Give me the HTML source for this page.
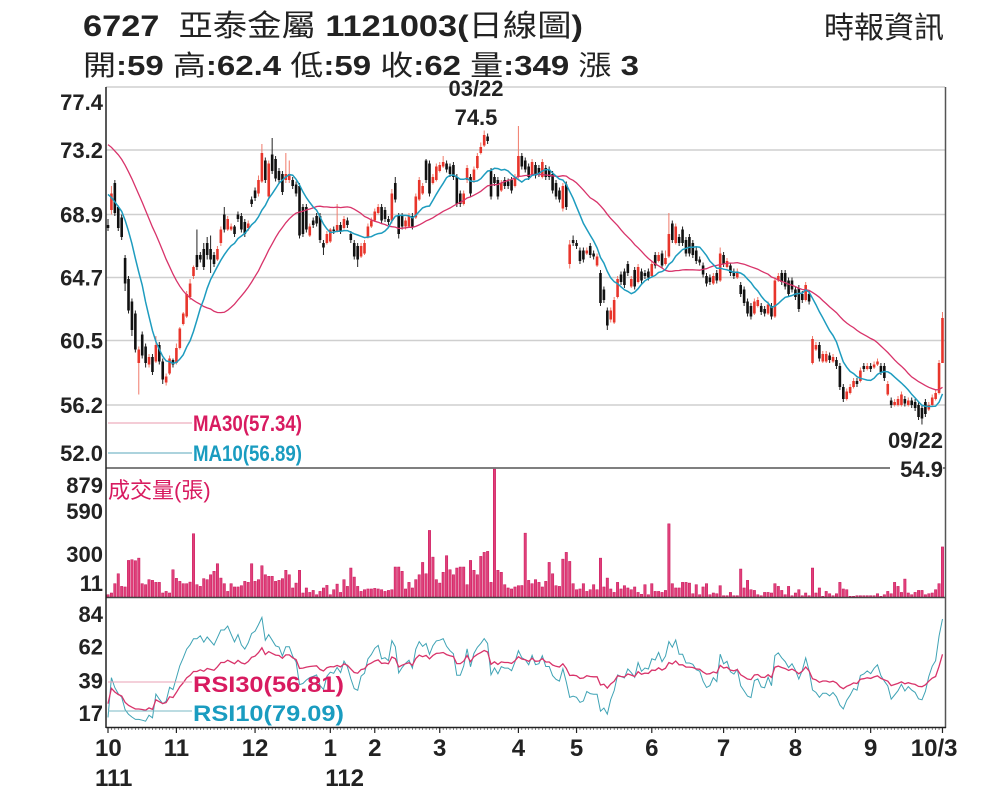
<!DOCTYPE html>
<html><head><meta charset="utf-8"><style>
html,body{margin:0;padding:0;background:#fff;}
svg{display:block;font-family:"Liberation Sans","Noto Sans CJK TC",sans-serif;}
.b{font-weight:bold;}
</style></head><body>
<svg id="chart" width="1000" height="803" viewBox="0 0 1000 803" xmlns="http://www.w3.org/2000/svg">
<rect width="1000" height="803" fill="#fff"/>
<text x="83" y="36" font-size="30" class="b" fill="#222" textLength="500" lengthAdjust="spacingAndGlyphs">6727 <tspan font-weight="normal">&#160;亞泰金屬</tspan> 1121003(<tspan font-weight="normal">日線圖</tspan>)</text>
<text x="83" y="75" font-size="28" class="b" fill="#222" textLength="556" lengthAdjust="spacingAndGlyphs"><tspan font-weight="normal">開</tspan>:59 <tspan font-weight="normal">高</tspan>:62.4 <tspan font-weight="normal">低</tspan>:59 <tspan font-weight="normal">收</tspan>:62 <tspan font-weight="normal">量</tspan>:349 <tspan font-weight="normal">漲</tspan> 3</text>
<text x="944" y="38" font-size="30" text-anchor="end" fill="#222">時報資訊</text>
<g id="grid"></g>
<g id="ylabels"></g>
<g id="candles"></g>
<g id="ma"></g>
<g id="vol"></g>
<g id="rsi"></g>
<g id="xaxis"></g>
<line x1="106" y1="468" x2="945" y2="468" stroke="#555" stroke-width="1.5"/>
<line x1="106" y1="597.5" x2="945" y2="597.5" stroke="#444" stroke-width="1.5"/>
<line x1="106" y1="87" x2="106" y2="728" stroke="#222" stroke-width="1.5"/>
<line x1="945.5" y1="87" x2="945.5" y2="728" stroke="#555" stroke-width="1.5"/>
<line x1="106" y1="727.5" x2="946" y2="727.5" stroke="#222" stroke-width="1.5"/>
<text x="476" y="96" font-size="22" class="b" text-anchor="middle" fill="#222">03/22</text>
<text x="476" y="125" font-size="22" class="b" text-anchor="middle" fill="#222">74.5</text>
<text x="943" y="448" font-size="22" class="b" text-anchor="end" fill="#222">09/22</text>
<rect x="890" y="460" width="53" height="21" fill="#fff"/>
<text x="943" y="477" font-size="22" class="b" text-anchor="end" fill="#222">54.9</text>
<line x1="108" y1="423" x2="192" y2="423" stroke="#e89aae" stroke-width="1"/>
<text x="193" y="431" font-size="22" class="b" fill="#d81b60" textLength="109" lengthAdjust="spacingAndGlyphs">MA30(57.34)</text>
<line x1="108" y1="453" x2="192" y2="453" stroke="#5aa7bb" stroke-width="1"/>
<text x="193" y="461" font-size="22" class="b" fill="#1a9cc0" textLength="109" lengthAdjust="spacingAndGlyphs">MA10(56.89)</text>
<text x="108" y="498" font-size="22" fill="#d81b60">成交量(張)</text>
<line x1="108" y1="682" x2="192" y2="682" stroke="#e8a0b4" stroke-width="1"/>
<text x="193" y="692" font-size="22" class="b" fill="#d81b60" textLength="151" lengthAdjust="spacingAndGlyphs">RSI30(56.81)</text>
<line x1="108" y1="711" x2="192" y2="711" stroke="#7ab8c4" stroke-width="1"/>
<text x="193" y="721" font-size="22" class="b" fill="#1a9cc0" textLength="151" lengthAdjust="spacingAndGlyphs">RSI10(79.09)</text>
</svg>
<script>
const NS="http://www.w3.org/2000/svg";
const opens=[68.2,69.2,71.0,69.4,68.7,66.0,64.6,63.1,62.3,59.0,60.9,60.1,58.9,59.4,59.1,60.2,59.1,57.7,58.3,59.2,59.0,60.0,61.6,62.1,63.4,64.8,66.2,66.2,66.6,67.0,66.6,66.2,65.9,67.0,68.9,67.9,67.9,68.1,68.9,68.8,68.4,68.0,69.9,70.5,70.3,71.1,72.5,70.1,72.9,72.6,71.8,71.6,71.2,71.2,71.2,70.9,70.8,69.4,69.4,67.5,68.5,68.8,68.8,67.0,67.0,67.1,67.9,67.8,68.2,68.0,68.5,67.6,67.0,66.8,66.1,66.3,67.4,68.1,68.5,69.0,69.4,69.2,68.6,68.5,71.0,68.8,68.8,68.1,68.1,68.8,68.7,69.9,70.3,72.5,72.3,71.0,71.2,71.8,72.1,72.3,72.1,72.2,71.4,70.3,69.6,71.2,71.4,71.2,72.0,73.0,73.5,74.1,71.8,71.4,71.2,70.5,71.2,71.1,71.2,70.8,71.4,72.8,72.5,72.1,71.6,72.2,72.0,71.4,72.0,71.9,71.6,71.0,70.5,69.3,70.9,65.6,67.2,67.0,66.5,66.5,66.3,66.8,66.3,65.5,65.0,63.9,62.5,61.9,61.7,63.4,64.9,65.1,65.6,64.1,65.2,64.4,65.1,65.0,65.1,64.8,66.2,65.8,66.3,65.6,66.1,68.3,67.0,67.4,67.9,67.2,67.4,67.0,66.5,65.9,65.5,64.8,64.7,64.3,65.0,64.5,66.2,65.4,65.5,65.1,64.7,64.2,63.9,63.1,62.8,62.3,62.8,62.8,62.6,62.3,62.8,62.1,64.5,65.0,65.0,64.5,64.5,63.9,64.0,63.6,63.2,63.6,59.0,59.9,60.2,59.1,59.1,59.5,59.1,59.2,58.8,57.4,56.6,57.0,57.4,57.8,57.8,58.8,58.6,58.8,58.7,58.9,58.8,58.8,56.9,56.5,56.2,56.2,56.2,56.6,56.2,56.5,56.4,56.2,56.0,56.4,55.9,56.2,56.6,57.0,59.0];
const highs=[68.6,70.8,71.2,69.5,68.9,66.2,64.8,63.3,62.5,60.1,61.1,60.3,59.6,59.6,60.8,60.4,59.3,58.3,59.5,59.3,60.3,61.4,62.4,63.8,64.6,65.5,67.9,66.4,67.0,67.4,67.5,66.4,66.8,68.1,69.4,68.8,68.3,68.2,69.1,69.0,68.6,68.5,70.1,70.7,71.5,73.6,72.7,72.5,74.0,72.8,72.0,71.8,73.0,72.5,71.4,71.1,71.0,69.6,69.6,68.3,68.7,69.0,69.0,67.2,67.8,68.0,68.1,69.6,68.4,68.8,68.7,67.8,67.2,67.0,67.0,67.2,68.3,68.7,69.3,69.6,69.6,69.4,68.8,70.6,71.4,69.0,69.0,68.7,69.0,69.0,70.3,71.4,71.0,72.6,72.5,71.6,72.3,72.4,72.8,72.5,72.3,72.4,71.6,70.5,70.5,72.2,71.6,72.1,73.0,73.7,74.5,74.3,72.0,71.6,71.4,71.2,71.4,71.3,71.4,71.6,74.8,73.0,72.7,72.3,72.6,72.4,72.2,72.6,72.2,72.1,71.8,71.2,70.7,71.0,71.1,67.2,67.5,67.2,66.7,66.7,66.7,67.0,66.5,66.3,65.2,64.1,62.7,62.7,63.4,64.8,65.1,65.3,65.8,64.8,65.4,65.6,65.3,65.2,65.3,65.8,66.4,66.4,66.5,66.5,69.0,68.5,68.3,67.6,68.1,67.4,67.6,67.2,66.7,66.1,65.7,65.0,64.9,65.0,65.2,66.7,66.4,66.0,65.7,65.3,65.3,64.4,64.1,63.3,63.0,63.3,63.4,63.0,62.8,63.1,63.0,64.7,65.0,65.2,65.2,64.7,64.7,64.1,64.2,63.8,64.4,63.8,60.8,60.4,60.4,59.8,59.8,59.7,59.6,59.4,59.0,57.6,57.3,57.6,58.0,58.0,58.7,59.0,59.0,59.0,59.1,59.3,59.0,59.0,57.8,56.7,56.6,56.8,57.1,56.8,56.7,56.7,56.6,56.4,56.2,56.6,56.4,56.9,57.2,59.2,62.4];
const lows=[67.8,68.9,68.8,67.8,67.2,63.8,62.3,60.8,59.7,56.9,59.3,58.7,58.7,58.2,59.0,58.9,57.6,57.5,58.2,58.7,58.9,59.9,61.5,62.0,63.2,64.6,65.2,65.7,65.2,65.9,65.0,65.4,65.8,66.8,67.7,67.8,67.8,67.4,68.4,67.7,67.4,67.8,69.4,69.8,70.1,71.0,71.0,70.0,71.6,71.1,71.0,70.2,71.0,71.0,70.6,70.1,67.3,67.4,67.7,67.4,68.0,68.1,67.0,66.2,66.9,67.0,67.6,67.7,67.6,67.9,68.0,67.0,65.9,65.4,66.0,66.2,67.3,68.0,68.4,68.9,68.3,68.4,68.2,68.3,69.7,67.3,67.9,67.9,68.0,67.9,68.6,69.8,70.2,71.0,70.1,70.9,71.1,71.7,72.0,71.7,71.4,71.2,69.4,69.4,69.5,71.0,70.1,71.0,71.9,72.9,73.4,73.6,69.9,70.8,69.9,70.4,70.6,70.6,70.3,70.7,71.3,71.9,71.7,71.2,71.5,71.3,71.4,71.3,71.2,71.2,70.3,69.9,69.7,69.1,69.2,65.3,66.8,66.6,65.6,65.7,66.2,66.0,65.9,65.4,62.8,63.0,61.2,61.7,61.6,63.3,64.2,64.0,64.8,64.0,63.9,64.3,64.3,64.6,64.5,64.7,65.3,65.7,65.3,65.5,66.0,67.0,66.9,66.8,66.8,66.1,66.1,66.0,65.6,65.5,64.7,64.1,64.2,64.2,64.3,64.4,65.4,65.3,64.8,64.6,64.6,63.4,62.8,62.1,61.9,62.2,62.7,62.2,62.1,62.2,61.9,62.0,64.4,64.2,63.9,63.4,63.7,63.2,62.4,63.0,63.1,62.9,58.9,59.8,59.1,59.0,59.0,59.0,59.0,58.6,57.2,56.4,56.5,56.9,57.3,57.4,57.7,58.4,58.5,58.4,58.6,58.8,58.2,57.8,56.8,56.0,56.1,56.1,56.1,56.1,56.1,56.0,55.8,55.2,54.9,55.4,55.8,56.1,56.5,56.9,59.0];
const closes=[68.0,70.3,69.0,68.0,67.4,64.3,62.5,61.2,59.9,59.9,59.5,59.0,59.4,58.4,60.2,59.1,57.9,58.1,59.3,58.9,60.0,61.3,62.3,63.6,64.3,65.4,65.4,65.9,65.4,66.2,65.9,65.6,66.6,67.9,67.9,68.6,68.1,67.6,68.6,67.9,67.6,68.3,69.6,70.0,71.2,73.0,71.2,72.3,71.8,71.3,71.2,70.4,71.6,71.6,70.8,70.3,67.5,67.6,67.9,68.1,68.2,68.3,67.2,66.7,67.6,67.9,67.8,68.2,67.8,68.6,68.2,67.2,66.1,65.9,66.8,67.0,68.1,68.5,69.1,69.4,68.5,68.6,68.4,70.3,69.9,67.6,68.1,68.5,68.8,68.1,70.1,71.2,70.8,71.2,70.3,71.4,72.1,72.2,72.4,71.9,71.6,71.4,69.6,69.6,70.3,72.0,70.3,71.9,72.8,73.4,74.2,73.8,70.1,71.0,70.1,71.0,70.8,70.8,70.5,71.4,72.8,72.1,71.9,71.4,72.4,71.5,71.6,72.4,71.4,71.4,70.5,70.1,69.9,70.8,69.4,66.9,67.0,66.8,65.8,65.9,66.5,66.2,66.1,66.1,63.0,63.2,61.5,62.5,63.2,64.6,64.4,64.2,65.0,64.6,64.1,65.4,64.5,64.8,64.7,65.6,65.5,66.2,65.5,66.0,67.6,67.2,68.1,67.0,67.0,66.3,66.3,66.2,65.8,65.7,64.9,64.3,64.4,64.8,64.5,66.3,65.6,65.8,65.0,64.8,65.1,63.6,63.0,62.3,62.1,63.1,63.2,62.4,62.3,62.9,62.1,64.5,64.8,64.4,64.1,63.6,63.9,63.4,62.6,63.2,64.2,63.1,60.6,60.2,59.3,59.6,59.6,59.2,59.4,58.8,57.4,56.6,57.1,57.4,57.8,57.6,58.5,58.6,58.8,58.6,58.9,59.1,58.4,58.0,57.6,56.2,56.4,56.6,56.9,56.3,56.5,56.2,56.0,55.4,55.3,55.6,56.2,56.7,57.0,59.0,62.0];
const priorCloses=[75.8,76.2,75.9,76.5,76.0,75.6,75.3,75.8,75.4,75.0,75.5,75.9,75.2,74.8,75.1,74.6,74.9,74.2,73.8,73.0,72.4,71.8,71.2,70.6,70.2,69.8,69.5,69.9,69.0];
const volumes=[16,28,93,162,74,70,255,260,253,271,93,86,121,116,102,102,28,39,28,190,130,109,93,93,104,441,86,74,128,121,155,179,232,132,93,39,93,70,70,79,109,102,232,109,121,218,155,144,144,109,116,128,186,155,63,97,186,28,63,32,46,16,39,63,81,16,51,90,32,121,74,202,139,74,39,51,56,56,60,56,51,39,46,51,209,209,179,56,102,63,121,155,241,162,464,278,121,97,172,288,190,155,202,209,209,86,255,186,155,283,311,318,102,891,186,172,86,63,56,70,79,80,445,116,93,121,102,70,109,241,162,79,74,264,311,248,93,51,56,93,39,51,86,51,271,70,132,56,32,102,56,79,63,51,70,32,19,86,16,93,39,39,32,46,510,93,63,63,102,102,97,23,86,16,70,93,16,28,23,79,9,9,32,9,9,195,63,116,51,46,16,9,32,32,28,93,74,46,16,74,9,28,51,9,28,9,202,28,63,5,39,23,9,23,102,56,51,5,5,9,9,9,9,9,9,23,5,16,39,23,102,74,32,125,28,16,32,46,46,16,23,28,51,93,349];
const priceTicks=[77.4,73.2,68.9,64.7,60.5,56.2,52.0];
const volTickLabels=["879","590","300","11"];
const rsiTickLabels=["84","62","39","17"];
const monthLabels=["10","11","12","1","2","3","4","5","6","7","8","9","10/3"];
const monthStartIdx=[0,20,43,65,78,97,120,137,159,180,201,223,244];

const svg=document.getElementById('chart');
const X0=108,DX=3.42;
function xI(i){return X0+DX*i;}
function yP(p){return 468-(p-52)*15;}
function yV(v){return 597-v*0.1435;}
function yR(r){return 614+(84-r)*1.478;}
function mk(tag,attrs,parent){const e=document.createElementNS(NS,tag);for(const k in attrs)e.setAttribute(k,attrs[k]);parent.appendChild(e);return e;}

const grid=document.getElementById('grid'),yl=document.getElementById('ylabels');
priceTicks.forEach((p,k)=>{
  if(k<priceTicks.length-1){const l=mk('line',{x1:106,x2:945,y1:yP(p),y2:yP(p),stroke:'#cfcfcf','stroke-width':1.5},grid);
  
  }
  let ty=yP(p)+8; if(k===0)ty=yP(p)+23; if(k===priceTicks.length-1)ty=yP(p)-7;
  const t=mk('text',{x:103,y:ty,'font-size':22,'font-weight':'bold','text-anchor':'end',fill:'#222'},yl);
  t.textContent=p.toFixed(1);
  
  
});
const volTickY=[493,519,562,591];
volTickLabels.forEach((s,k)=>{const t=mk('text',{x:103,y:volTickY[k],'font-size':22,'font-weight':'bold','text-anchor':'end',fill:'#222'},yl);t.textContent=s;
  
  });
rsiTickLabels.forEach((s,k)=>{const t=mk('text',{x:103,y:yR(+s)+8,'font-size':22,'font-weight':'bold','text-anchor':'end',fill:'#222'},yl);t.textContent=s;
  
  });

const cg=document.getElementById('candles');
closes.forEach((c,i)=>{
  const o=opens[i],up=c>=o,col=up?'#e8352b':'#111';
  const x=xI(i);
  const w=mk('line',{x1:x,x2:x,y1:yP(highs[i]),y2:yP(lows[i]),stroke:up?'#f07a6a':'#222','stroke-width':1},cg);
  
  
  const top=yP(Math.max(o,c)),h=Math.max(1.2,Math.abs(yP(o)-yP(c)));
  const r=mk('rect',{x:x-1.3,y:top,width:2.6,height:h,fill:col},cg);
  
  
});

const all=priorCloses.concat(closes),P=priorCloses.length;
function maPath(n){let d='';for(let i=0;i<closes.length;i++){const j=P+i;const s=all.slice(Math.max(0,j-n+1),j+1);const m=s.reduce((a,b)=>a+b,0)/s.length;d+=(i?'L':'M')+xI(i).toFixed(1)+' '+yP(m).toFixed(1);}return d;}
const mg=document.getElementById('ma');
const m30=mk('path',{d:maPath(30),fill:'none',stroke:'#d8336a','stroke-width':1.3},mg);


const m10=mk('path',{d:maPath(10),fill:'none',stroke:'#1e9cbf','stroke-width':1.5},mg);



const vg=document.getElementById('vol');
volumes.forEach((v,i)=>{const y=yV(v);const r=mk('rect',{x:xI(i)-1.2,y:y,width:2.4,height:597-y,fill:'#e0407a',stroke:'#c8145a','stroke-width':0.5},vg);
  
  });

function rsi(n){let ag=0,al=0;const out=[];for(let j=1;j<all.length;j++){const d=all[j]-all[j-1];const g=d>0?d:0,l=d<0?-d:0;const k=Math.min(j,n);ag=(ag*(k-1)+g)/k;al=(al*(k-1)+l)/k;if(j>=P)out.push(al===0?100:100-100/(1+ag/al));}return out;}
const rg=document.getElementById('rsi');
function rPath(arr){return arr.map((r,i)=>(i?'L':'M')+xI(i).toFixed(1)+' '+Math.min(726,Math.max(599,yR(r))).toFixed(1)).join('');}
const r10=mk('path',{d:rPath(rsi(10)),fill:'none',stroke:'#3fa3b5','stroke-width':1},rg);


const r30=mk('path',{d:rPath(rsi(30)),fill:'none',stroke:'#d8336a','stroke-width':1.3},rg);



const xg=document.getElementById('xaxis');
for(let i=0;i<closes.length;i++){const t=mk('line',{x1:xI(i),x2:xI(i),y1:727,y2:730,stroke:'#333','stroke-width':0.6},xg);
  
  }
monthLabels.forEach((s,k)=>{const x=xI(monthStartIdx[k]);
  const tk=mk('line',{x1:x,x2:x,y1:727,y2:733,stroke:'#222','stroke-width':1.2},xg);
  
  
  const anchor=k===0?'start':(k===monthLabels.length-1?'end':'middle');
  const t=mk('text',{x:k===0?95:(k===monthLabels.length-1?x+15:x),y:756,'font-size':24,'font-weight':'bold','text-anchor':anchor,fill:'#222'},xg);
  t.textContent=s;
  
  });
[["111",0],["112",65]].forEach(([s,i])=>{const t=mk('text',{x:i===0?95:xI(i)-5,y:786,'font-size':24,'font-weight':'bold',fill:'#222'},xg);t.textContent=s;
  
  });
</script>
</body></html>
